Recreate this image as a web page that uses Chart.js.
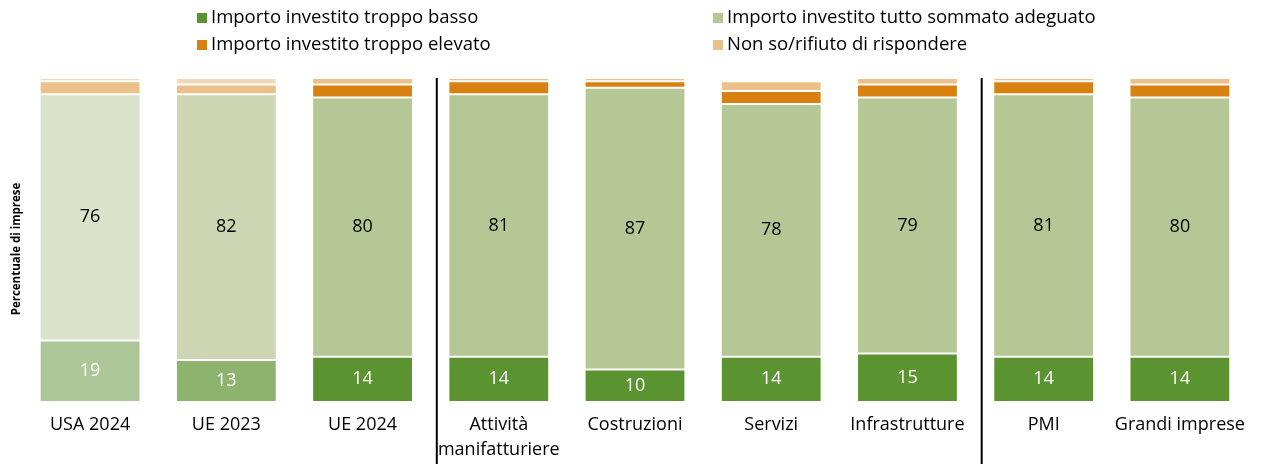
<!DOCTYPE html>
<html>
<head>
<meta charset="utf-8">
<script src="https://cdn.jsdelivr.net/npm/chart.js@4"></script>
<style>
  body { margin: 0; background: #fff; }
  #wrap { position: relative; width: 1263px; height: 464px; }
  #legend { position: absolute; left: 0; top: 0; width: 1263px; height: 60px; font-family: 'Open Sans', sans-serif; font-size: 18.5px; line-height: 22px; color: #000; }
  .item { position: absolute; white-space: nowrap; }
  .box { display: inline-block; width: 10px; height: 10px; margin-right: 4px; vertical-align: 0px; }
</style>
</head>
<body>
<div id="wrap">
  <canvas id="chart" width="1263" height="464"></canvas>
  <div id="legend"></div>
</div>
<script>
// categories and values (percent of firms)
const categories = ['USA 2024', 'UE 2023', 'UE 2024', ['Attività', 'manifatturiere'], 'Costruzioni', 'Servizi', 'Infrastrutture', 'PMI', 'Grandi imprese'];
const troppoBasso = [19, 13, 14, 14, 10, 14, 15, 14, 14];
const adeguato = [76, 82, 80, 81, 87, 78, 79, 81, 80];
const troppoElevato = [4, 3, 4, 4, 2, 4, 4, 4, 4];
const nonSo = [1, 2, 2, 1, 1, 3, 2, 1, 2];
const seriesNames = ['Importo investito troppo basso', 'Importo investito tutto sommato adeguato', 'Importo investito troppo elevato', 'Non so/rifiuto di rispondere'];
const yTitle = 'Percentuale di imprese';

// USA 2024 and UE 2023 are drawn in faded tones
const colBasso = ['#abc797', '#8db36f', '#5b9331', '#5b9331', '#5b9331', '#5b9331', '#5b9331', '#5b9331', '#5b9331'];
const colAdeguato = ['#dae2c9', '#ccd6b3', '#b5c795', '#b5c795', '#b5c795', '#b5c795', '#b5c795', '#b5c795', '#b5c795'];
const colElevato = ['#ecc08b', '#ecc08b', '#d98110', '#d98110', '#d98110', '#d98110', '#d98110', '#d98110', '#d98110'];
const colNonSo = ['#f4d7b6', '#f4d7b6', '#ecc08b', '#ecc08b', '#ecc08b', '#ecc08b', '#ecc08b', '#ecc08b', '#ecc08b'];

// legend as plain html, two columns
const legendItems = [
    { text: seriesNames[0], color: '#5b9331', left: 197, top: 5 },
    { text: seriesNames[1], color: '#b5c795', left: 713, top: 5 },
    { text: seriesNames[2], color: '#d98110', left: 197, top: 32 },
    { text: seriesNames[3], color: '#ecc08b', left: 713, top: 32 }
];
const legendEl = document.getElementById('legend');
legendItems.forEach(it => {
    const d = document.createElement('div');
    d.className = 'item';
    d.style.left = it.left + 'px';
    d.style.top = it.top + 'px';
    d.innerHTML = '<span class="box" style="background:' + it.color + '"></span>' + it.text;
    legendEl.appendChild(d);
});

// values printed inside the two green segments
const valueLabels = {
    id: 'valueLabels',
    afterDatasetsDraw(chart) {
        const ctx = chart.ctx;
        ctx.save();
        ctx.font = '18px "Open Sans", sans-serif';
        ctx.textAlign = 'center';
        ctx.textBaseline = 'middle';
        [0, 1].forEach(i => {
            const meta = chart.getDatasetMeta(i);
            meta.data.forEach((bar, j) => {
                const y = (bar.y + bar.base) / 2;
                ctx.fillStyle = i === 0 ? '#ffffff' : '#000000';
                ctx.fillText(chart.data.datasets[i].data[j], bar.x, y);
            });
        });
        ctx.restore();
    }
};

// black separators between groups + rotated y title
const separators = {
    id: 'separators',
    afterDraw(chart) {
        const x = chart.scales.x;
        const ctx = chart.ctx;
        ctx.save();
        ctx.strokeStyle = '#000';
        ctx.lineWidth = 2;
        [2, 6].forEach(i => {
            const px = x.getPixelForValue(i + 0.545);
            ctx.beginPath();
            ctx.moveTo(px, chart.chartArea.top);
            ctx.lineTo(px, chart.height);
            ctx.stroke();
        });
        ctx.translate(17, 249);
        ctx.rotate(-Math.PI / 2);
        ctx.font = 'bold 11.5px "Open Sans", sans-serif';
        ctx.fillStyle = '#000';
        ctx.textAlign = 'center';
        ctx.textBaseline = 'middle';
        ctx.fillText(yTitle, 0, 0);
        ctx.restore();
    }
};

const ctx = document.getElementById('chart').getContext('2d');
new Chart(ctx, {
    type: 'bar',
    data: {
        labels: categories,
        datasets: [
            { label: seriesNames[0], data: troppoBasso, backgroundColor: colBasso },
            { label: seriesNames[1], data: adeguato, backgroundColor: colAdeguato },
            { label: seriesNames[2], data: troppoElevato, backgroundColor: colElevato },
            { label: seriesNames[3], data: nonSo, backgroundColor: colNonSo }
        ].map(ds => Object.assign(ds, {
            borderColor: '#ffffff',
            borderWidth: 1,
            borderSkipped: false,
            categoryPercentage: 0.74,
            barPercentage: 1
        }))
    },
    options: {
        responsive: false,
        animation: false,
        maintainAspectRatio: false,
        layout: { padding: { top: 78, left: 22, right: 15, bottom: 0 } },
        plugins: {
            legend: { display: false },
            tooltip: { enabled: false }
        },
        scales: {
            x: {
                stacked: true,
                grid: { display: false, drawTicks: false },
                border: { display: false },
                afterFit(scale) { scale.height = 62; },
                ticks: {
                    color: '#000',
                    padding: 10,
                    maxRotation: 0,
                    autoSkip: false,
                    font: { family: '"Open Sans", sans-serif', size: 18, lineHeight: 1.4 }
                }
            },
            y: {
                display: false,
                stacked: true,
                min: 0,
                max: 100
            }
        }
    },
    plugins: [valueLabels, separators]
});
</script>
</body>
</html>
